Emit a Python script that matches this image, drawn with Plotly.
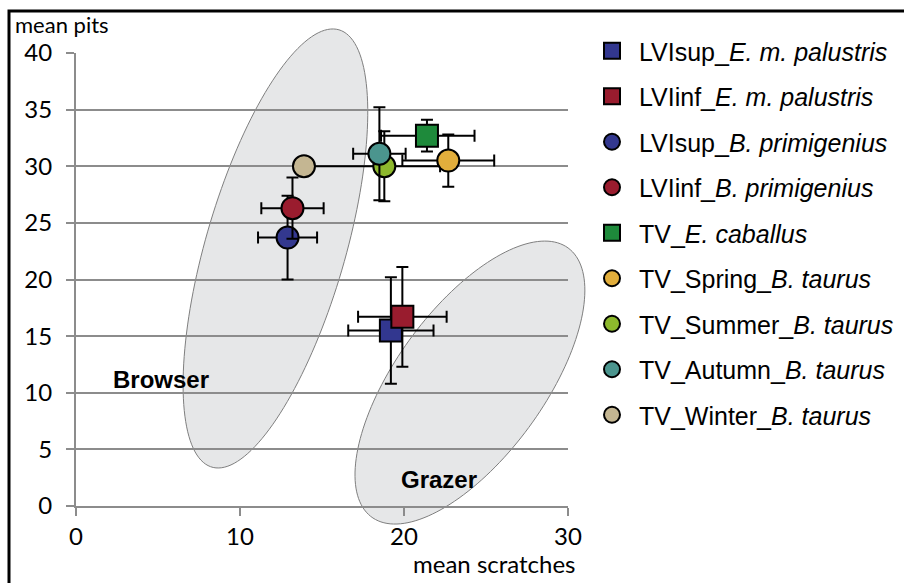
import numpy as np
import plotly.graph_objects as go

# ---- data: mean scratches (x) and mean pits (y) with error ranges ----
labels = [
    "LVIsup_<i>E. m. palustris</i>",
    "LVIinf_<i>E. m. palustris</i>",
    "LVIsup_<i>B. primigenius</i>",
    "LVIinf_<i>B. primigenius</i>",
    "TV_<i>E. caballus</i>",
    "TV_Spring_<i>B. taurus</i>",
    "TV_Summer_<i>B. taurus</i>",
    "TV_Autumn_<i>B. taurus</i>",
    "TV_Winter_<i>B. taurus</i>",
]
scratches = [19.2, 19.9, 12.9, 13.2, 21.4, 22.7, 18.8, 18.5, 13.9]
pits = [15.5, 16.7, 23.7, 26.3, 32.7, 30.5, 30.0, 31.1, 30.0]
scratch_err_plus = [2.6, 2.7, 1.8, 1.9, 2.9, 2.8, 3.4, 1.6, 0.0]
scratch_err_minus = [2.6, 2.7, 1.8, 1.9, 2.8, 2.8, 4.9, 1.6, 0.0]
pit_err = [4.7, 4.4, 3.7, 2.7, 1.4, 2.3, 3.1, 4.1, 0.0]

symbols = ["square", "square", "circle", "circle", "square",
           "circle", "circle", "circle", "circle"]
colors = ["#32378F", "#991C2E", "#33388F", "#9A1C2E", "#1E8A3B",
          "#E2AE3C", "#8DB82D", "#4B958E", "#C4B692"]

# drawing order (Summer under Spring so its bar tucks beneath the circle)
draw_order = [0, 1, 2, 3, 4, 6, 5, 7, 8]

X_RANGE = [0, 30]
Y_RANGE = [0, 40]
W, H = 904, 583
M_L, M_R, M_T, M_B = 76, 336, 53, 77
PLOT_W = W - M_L - M_R
PLOT_H = H - M_T - M_B

FONT_AX = "Lato, Carlito, Calibri, sans-serif"
FONT_TX = "Arial, Liberation Sans, sans-serif"
GRID = "#8C8C8C"


def px_x(p):
    return (p - M_L) / PLOT_W


def px_y(p):
    return (M_T + PLOT_H - p) / PLOT_H


fig = go.Figure()
for i in draw_order:
    fig.add_trace(go.Scatter(
        x=[scratches[i]], y=[pits[i]],
        mode="markers",
        name=labels[i],
        legendgroup=f"g{i}",
        legendrank=i + 1,
        marker=dict(symbol=symbols[i], size=22, color=colors[i],
                    line=dict(color="black", width=2)),
        error_x=dict(type="data", symmetric=False,
                     array=[scratch_err_plus[i]],
                     arrayminus=[scratch_err_minus[i]],
                     color="black", thickness=2, width=6,
                     visible=scratch_err_plus[i] > 0),
        error_y=dict(type="data", array=[pit_err[i]],
                     color="black", thickness=2, width=6,
                     visible=pit_err[i] > 0),
        hoverinfo="skip",
    ))


def ellipse_path(cx, cy, a_px, b_px, angle_deg, n=160):
    """Rotated ellipse (semi-axes in pixels) centred on a data point, as a paper path."""
    t = np.linspace(0, 2 * np.pi, n)
    th = np.radians(angle_deg)
    dx = a_px * np.cos(t) * np.cos(th) - b_px * np.sin(t) * np.sin(th)
    dy = a_px * np.cos(t) * np.sin(th) + b_px * np.sin(t) * np.cos(th)
    px = (cx - X_RANGE[0]) / (X_RANGE[1] - X_RANGE[0]) + dx / PLOT_W
    py = (cy - Y_RANGE[0]) / (Y_RANGE[1] - Y_RANGE[0]) + dy / PLOT_H
    pts = [f"{a:.5f},{b:.5f}" for a, b in zip(px, py)]
    return "M" + " L".join(pts) + " Z"


shapes = [
    # browser zone
    dict(type="path", xref="paper", yref="paper", layer="below",
         path=ellipse_path(12.16, 22.74, 227.7, 69.8, 73.8),
         fillcolor="#E6E7E8", line=dict(color="#7F7F7F", width=1)),
    # grazer zone
    dict(type="path", xref="paper", yref="paper", layer="below",
         path=ellipse_path(24.02, 10.9, 166.6, 74.0, 53.9),
         fillcolor="#E6E7E8", line=dict(color="#7F7F7F", width=1)),
    # outer frame
    dict(type="rect", xref="paper", yref="paper", layer="above",
         x0=px_x(9), x1=px_x(W + 10), y0=px_y(H + 10), y1=px_y(11),
         line=dict(color="black", width=3), fillcolor="rgba(0,0,0,0)"),
]

annotations = [
    dict(text="mean pits", xref="paper", yref="paper",
         x=px_x(14), y=px_y(25),
         xanchor="left", yanchor="middle", showarrow=False, borderpad=0,
         font=dict(family=FONT_AX, size=22, color="black")),
    dict(text="mean scratches", xref="paper", yref="paper",
         x=px_x(578), y=px_y(563),
         xanchor="right", yanchor="middle", showarrow=False,
         font=dict(family=FONT_AX, size=24, color="black")),
    dict(text="<b>Browser</b>", x=5.2, y=11.2, xref="x", yref="y",
         showarrow=False, font=dict(family=FONT_TX, size=24, color="black")),
    dict(text="<b>Grazer</b>", x=22.13, y=2.38, xref="x", yref="y",
         showarrow=False, font=dict(family=FONT_TX, size=24, color="black")),
]

fig.update_layout(
    width=W, height=H,
    margin=dict(l=M_L, r=M_R, t=M_T, b=M_B, pad=0, autoexpand=False),
    paper_bgcolor="white",
    plot_bgcolor="rgba(0,0,0,0)",
    shapes=shapes,
    annotations=annotations,
    showlegend=True,
    legend=dict(
        x=px_x(585), y=px_y(233),
        xanchor="left", yanchor="middle",
        font=dict(family=FONT_TX, size=25, color="black"),
        tracegroupgap=10,
        itemwidth=44,
        bgcolor="rgba(0,0,0,0)",
        itemclick=False, itemdoubleclick=False,
    ),
    xaxis=dict(
        range=X_RANGE, tickvals=[0, 10, 20, 30],
        showgrid=False, zeroline=False,
        showline=True, linecolor=GRID, linewidth=2,
        ticks="outside", ticklen=8, tickwidth=2, tickcolor=GRID,
        ticklabelstandoff=0,
        tickfont=dict(family=FONT_AX, size=24, color="black"),
    ),
    yaxis=dict(
        range=Y_RANGE, tickvals=[0, 5, 10, 15, 20, 25, 30, 35, 40],
        showgrid=True, gridcolor=GRID, gridwidth=2, zeroline=False,
        showline=True, linecolor=GRID, linewidth=2,
        ticks="outside", ticklen=8, tickwidth=2, tickcolor=GRID,
        ticklabelstandoff=9,
        tickfont=dict(family=FONT_AX, size=24, color="black"),
    ),
)

fig.write_html("out.html")
